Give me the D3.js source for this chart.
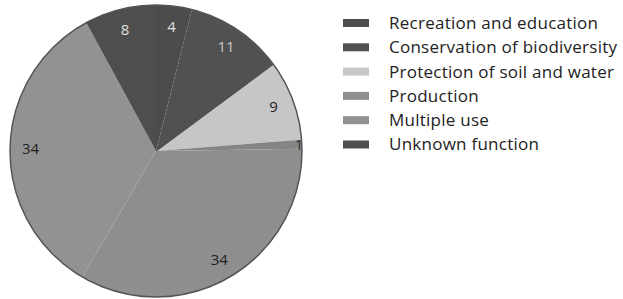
<!DOCTYPE html>
<html>
<head>
<meta charset="utf-8">
<script src="https://cdn.jsdelivr.net/npm/d3@7"></script>
<style>
  body { margin: 0; background: #fff; }
  text { font-family: "Open Sans", "DejaVu Sans", sans-serif; }
</style>
</head>
<body>
<script>
// slices, clockwise from 12 o'clock
const categories = ["Recreation and education", "Conservation of biodiversity", "Protection of soil and water", "Other", "Production", "Multiple use", "Unknown function"];
const values = [4, 11, 9, 1, 34, 34, 8];
const colors = ["#4c4c4c", "#515151", "#c6c6c6", "#858585", "#8e8e8e", "#929292", "#4e4e4e"];
const labelColors = ["#e0e0e0", "#c8c8c8", "#222", "#333", "#222", "#222", "#e0e0e0"];
// legend only lists these
const legendItems = ["Recreation and education", "Conservation of biodiversity", "Protection of soil and water", "Production", "Multiple use", "Unknown function"];

const width = 623, height = 299;
const cx = 156, cy = 151, r = 146;

const svg = d3.select("body").append("svg")
  .attr("width", width)
  .attr("height", height);

const data = categories.map((c, i) => ({ name: c, value: values[i], color: colors[i], lc: labelColors[i] }));

const pie = d3.pie().sort(null).value(d => d.value);
const arcs = pie(data);
const arc = d3.arc().innerRadius(0).outerRadius(r);
const labelR = d => d.data.value < 2 ? r * 0.98 : r * 0.86;

const g = svg.append("g").attr("transform", `translate(${cx},${cy})`);

g.selectAll("path")
  .data(arcs)
  .join("path")
  .attr("d", arc)
  .attr("fill", d => d.data.color);

// dark edge where the dark wedge meets the light one
const a = arcs[1].endAngle;
g.append("line")
  .attr("x1", 0).attr("y1", 0)
  .attr("x2", r * Math.sin(a)).attr("y2", -r * Math.cos(a))
  .attr("stroke", "#4a4a4a")
  .attr("stroke-width", 1.2);

// outer ring
g.append("circle")
  .attr("r", r)
  .attr("fill", "none")
  .attr("stroke", "#555")
  .attr("stroke-width", 1.5);

g.selectAll("text")
  .data(arcs)
  .join("text")
  .attr("transform", d => {
    const rr = labelR(d);
    return `translate(${d3.arc().innerRadius(rr).outerRadius(rr).centroid(d)})`;
  })
  .attr("text-anchor", "middle")
  .attr("dy", "0.35em")
  .attr("font-size", 15)
  .attr("fill", d => d.data.lc)
  .text(d => d.data.value);

// Legend
const legend = svg.append("g").attr("transform", "translate(343,23)");
const row = legend.selectAll("g")
  .data(legendItems)
  .join("g")
  .attr("transform", (d, i) => `translate(0,${i * 24.3})`);

row.append("rect")
  .attr("x", 0)
  .attr("y", -4)
  .attr("width", 26)
  .attr("height", 8)
  .attr("fill", d => colors[categories.indexOf(d)]);

const lt = row.append("text")
  .attr("x", 46)
  .attr("dy", "0.35em")
  .attr("font-size", 17)
  .attr("fill", "#222")
  .text(d => d);

// the reference lettering runs wider than Open Sans; spread it to match
const w0 = lt.node().getComputedTextLength();
lt.attr("letter-spacing", Math.max(0, (209 - w0) / 23));
</script>
</body>
</html>
